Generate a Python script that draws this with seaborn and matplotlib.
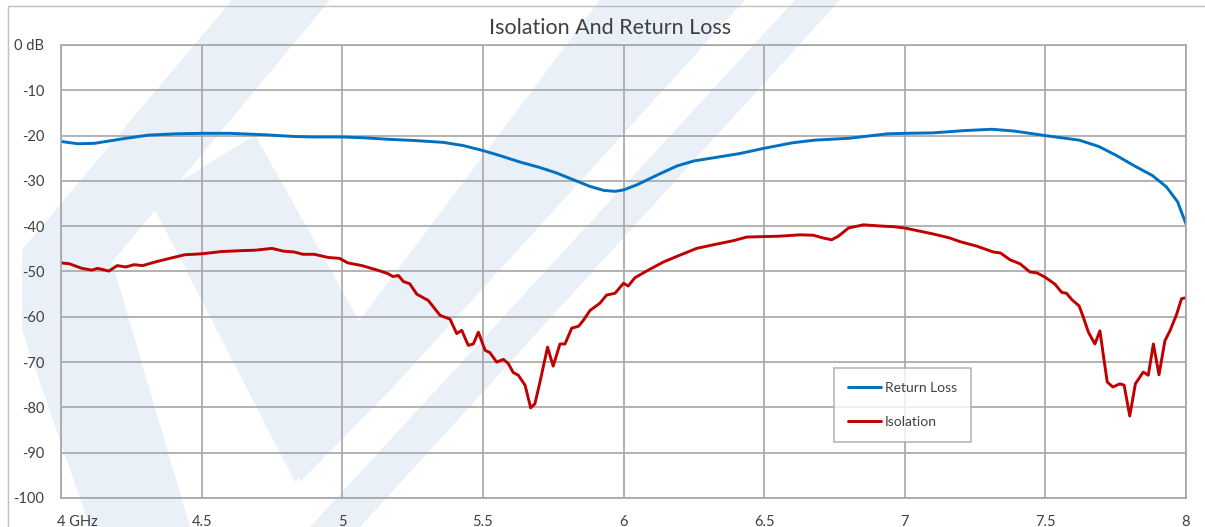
import numpy as np
import pandas as pd
import seaborn as sns
import matplotlib
matplotlib.use("Agg")
import matplotlib.pyplot as plt
from matplotlib.patches import Polygon, Rectangle
from matplotlib.lines import Line2D
import matplotlib.transforms as mtransforms

# ---------------- data ----------------
rl_freq = [4.00, 4.06, 4.12, 4.22, 4.31, 4.41, 4.50, 4.60, 4.72, 4.83, 4.90, 5.00,
           5.08, 5.16, 5.26, 5.36, 5.43, 5.50, 5.56, 5.63, 5.70, 5.76, 5.82, 5.88,
           5.93, 5.97, 6.00, 6.05, 6.12, 6.19, 6.25, 6.33, 6.41, 6.50, 6.60, 6.68,
           6.80, 6.87, 6.94, 7.00, 7.10, 7.21, 7.31, 7.39, 7.50, 7.62, 7.69, 7.75,
           7.82, 7.88, 7.93, 7.97, 8.00]
rl_db = [-21.3, -21.8, -21.7, -20.7, -19.9, -19.6, -19.5, -19.5, -19.8, -20.2, -20.3, -20.3,
         -20.5, -20.8, -21.1, -21.5, -22.2, -23.3, -24.4, -25.8, -27.0, -28.2, -29.7, -31.2,
         -32.1, -32.3, -32.0, -30.8, -28.7, -26.7, -25.6, -24.8, -24.0, -22.8, -21.6, -21.0,
         -20.6, -20.1, -19.6, -19.5, -19.4, -18.9, -18.6, -19.0, -20.0, -21.0, -22.4, -24.3,
         -26.8, -28.8, -31.3, -34.6, -39.5]

iso_freq = [4.000, 4.030, 4.074, 4.110, 4.130, 4.170, 4.200, 4.230, 4.260, 4.290, 4.335, 4.380,
            4.440, 4.500, 4.570, 4.640, 4.690, 4.750, 4.790, 4.830, 4.860, 4.900, 4.950, 4.990,
            5.020, 5.070, 5.120, 5.160, 5.180, 5.200, 5.217, 5.240, 5.265, 5.306, 5.348, 5.383,
            5.407, 5.425, 5.448, 5.466, 5.484, 5.508, 5.525, 5.549, 5.573, 5.590, 5.608, 5.626,
            5.650, 5.670, 5.685, 5.703, 5.730, 5.750, 5.774, 5.792, 5.816, 5.840, 5.857, 5.881,
            5.916, 5.940, 5.970, 6.000, 6.017, 6.040, 6.082, 6.142, 6.200, 6.260, 6.320, 6.390,
            6.438, 6.497, 6.556, 6.628, 6.675, 6.710, 6.740, 6.764, 6.800, 6.853, 6.924, 6.960,
            7.000, 7.054, 7.100, 7.160, 7.196, 7.256, 7.315, 7.340, 7.374, 7.410, 7.445, 7.470,
            7.500, 7.534, 7.558, 7.575, 7.594, 7.620, 7.635, 7.653, 7.676, 7.694, 7.708, 7.720,
            7.740, 7.765, 7.780, 7.800, 7.820, 7.848, 7.866, 7.884, 7.904, 7.925, 7.943, 7.967,
            7.984, 8.000]
iso_db = [-48.1, -48.3, -49.3, -49.7, -49.3, -49.9, -48.7, -49.0, -48.5, -48.7, -47.9, -47.2,
          -46.3, -46.1, -45.6, -45.4, -45.3, -44.9, -45.5, -45.7, -46.2, -46.2, -46.9, -47.1,
          -48.1, -48.7, -49.6, -50.4, -51.1, -50.9, -52.2, -52.7, -55.0, -56.4, -59.7, -60.5,
          -63.7, -63.0, -66.3, -66.0, -63.4, -67.4, -67.9, -70.0, -69.4, -70.3, -72.3, -72.9,
          -75.1, -80.1, -79.2, -74.4, -66.7, -70.9, -66.0, -66.0, -62.5, -62.1, -60.8, -58.6,
          -57.0, -55.2, -54.8, -52.6, -53.2, -51.4, -49.9, -47.9, -46.4, -44.9, -44.1, -43.2,
          -42.4, -42.3, -42.2, -41.9, -42.0, -42.6, -43.0, -42.2, -40.4, -39.7, -40.0, -40.1,
          -40.4, -41.1, -41.7, -42.6, -43.4, -44.4, -45.7, -45.9, -47.4, -48.3, -50.1, -50.3,
          -51.3, -52.8, -54.6, -54.8, -56.2, -57.6, -60.1, -63.4, -66.0, -63.1, -69.3, -74.4,
          -75.5, -74.8, -75.1, -81.9, -74.8, -72.2, -72.9, -66.0, -72.8, -65.3, -63.1, -59.4,
          -56.0, -55.8]

series_names = ["Return Loss", "Isolation"]
series_colors = ["#0070C0", "#C00000"]
x_ticks = [4, 4.5, 5, 5.5, 6, 6.5, 7, 7.5, 8]
x_labels = ["4 GHz", "4.5", "5", "5.5", "6", "6.5", "7", "7.5", "8"]
y_ticks = [0, -10, -20, -30, -40, -50, -60, -70, -80, -90, -100]
y_labels = ["0 dB", "-10", "-20", "-30", "-40", "-50", "-60", "-70", "-80", "-90", "-100"]
title = "Isolation And Return Loss"

df = pd.concat([
    pd.DataFrame({"freq": rl_freq, "db": rl_db, "series": series_names[0]}),
    pd.DataFrame({"freq": iso_freq, "db": iso_db, "series": series_names[1]}),
], ignore_index=True)

# ---------------- figure ----------------
sns.set_theme(style="white")
plt.rcParams["font.family"] = ["Lato", "DejaVu Sans"]

W, H = 1205, 527
fig = plt.figure(figsize=(W / 100, H / 100), dpi=100)
fig.patch.set_facecolor("white")

def px(pts):
    return [(x / W, 1 - y / H) for x, y in pts]

# faint background watermark (drawn behind the axes)
wm = "#E9F0F8"
wm_polys = [
    [(232, 0), (330, 0), (112, 262), (190, 527), (90, 527), (22, 330), (22, 250)],
    [(150, 200), (255, 135), (395, 385), (295, 482)],
    [(600, 0), (745, 0), (395, 385), (300, 482), (300, 400)],
    [(795, 0), (840, 0), (360, 527), (310, 527)],
]
for poly in wm_polys:
    fig.add_artist(Polygon(px(poly), closed=True, transform=fig.transFigure,
                           facecolor=wm, edgecolor="none", zorder=-5))
fig.add_artist(Rectangle((8 / W, -0.1), 2, 1 - 6 / H + 0.1, transform=fig.transFigure,
                         facecolor="none", edgecolor="#BFBFBF", lw=1.0, zorder=-4))

ax = fig.add_axes([61 / W, 1 - 498 / H, (1186 - 61) / W, (498 - 45) / H])
ax.set_facecolor("none")
ax.set_zorder(2)

sns.lineplot(data=df, x="freq", y="db", hue="series", hue_order=series_names,
             palette=series_colors, estimator=None, sort=False, legend=False,
             linewidth=2.1, ax=ax)
for ln in ax.get_lines():
    ln.set_solid_capstyle("round")
    ln.set_solid_joinstyle("round")

ax.set_xlim(4, 8)
ax.set_ylim(-100, 0)
ax.set_xticks(x_ticks)
ax.set_xticklabels(x_labels)
ax.set_yticks(y_ticks)
ax.set_yticklabels(y_labels)
ax.set_xlabel("")
ax.set_ylabel("")
ax.grid(True, color="#A6A6A6", linewidth=1.2)
ax.set_axisbelow(True)
for s in ax.spines.values():
    s.set_color("#A6A6A6")
    s.set_linewidth(1.2)
ax.tick_params(axis="both", length=0, labelsize=10.5, colors="#404040")
ax.tick_params(axis="y", pad=12)
ax.tick_params(axis="x", pad=12)
first = ax.get_xticklabels()[0]
first.set_horizontalalignment("left")
first.set_transform(first.get_transform() + mtransforms.ScaledTranslation(-4 / 100, 0, fig.dpi_scale_trans))

fig.text(610 / W, 1 - 28 / H, title, ha="center", va="center", fontsize=15.5, color="#404040")

handles = [Line2D([0], [0], color=c, lw=2.1) for c in series_colors]
leg = ax.legend(handles, series_names, loc="upper left",
                bbox_to_anchor=((834 - 61) / 1125, (498 - 368) / 453),
                borderaxespad=0, fontsize=10, frameon=True, fancybox=False,
                handlelength=2.4, handletextpad=0.25, labelspacing=1.6,
                borderpad=1.0)
leg.get_frame().set_edgecolor("#A6A6A6")
leg.get_frame().set_linewidth(1.2)
leg.get_frame().set_facecolor("white")
for t in leg.get_texts():
    t.set_color("#404040")

fig.savefig("out.png", dpi=100, facecolor="white")
